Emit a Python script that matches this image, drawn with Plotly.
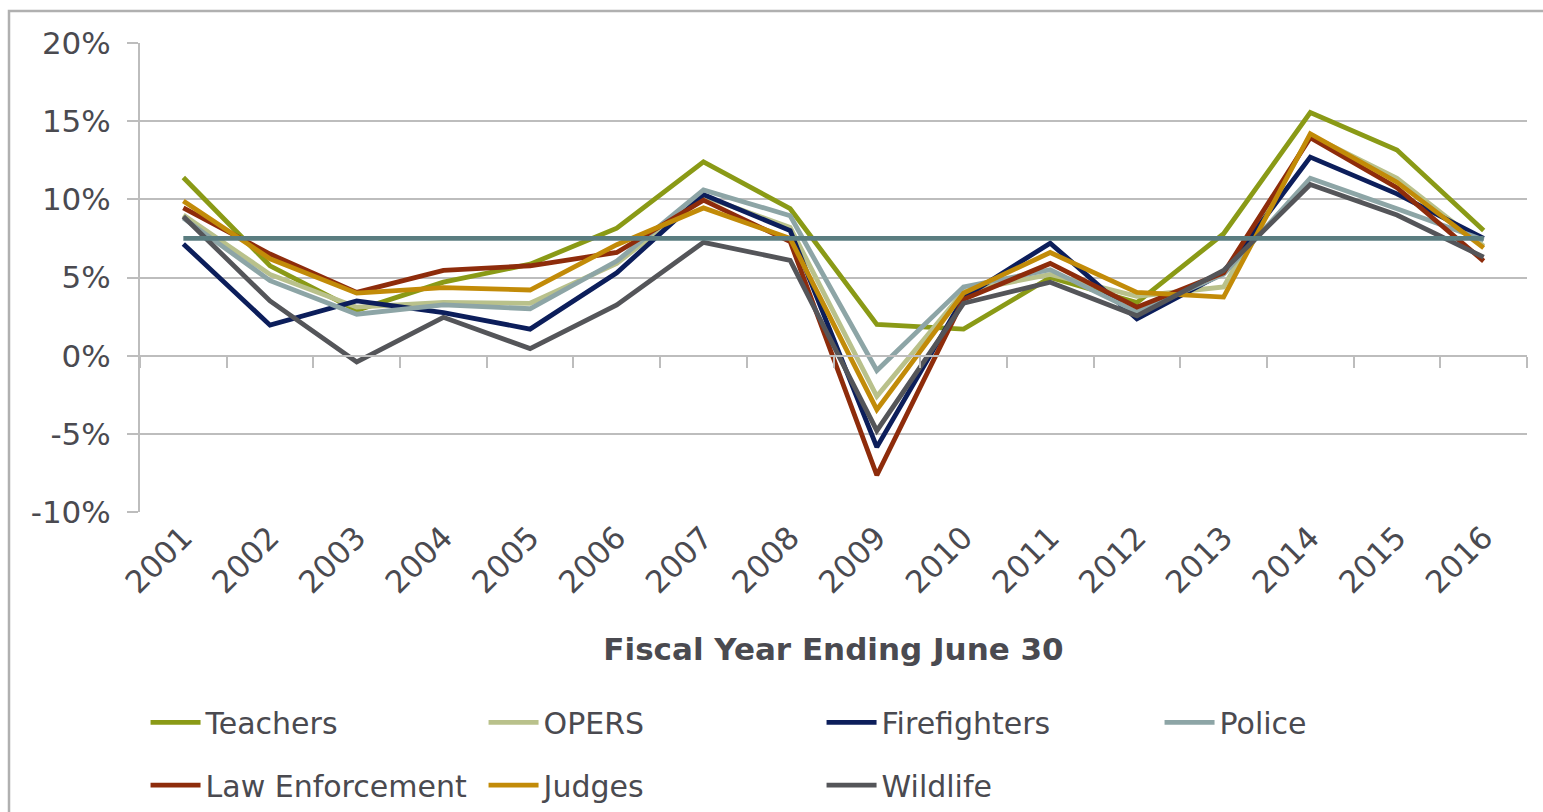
import plotly.graph_objects as go

years = ["2001", "2002", "2003", "2004", "2005", "2006", "2007", "2008",
         "2009", "2010", "2011", "2012", "2013", "2014", "2015", "2016"]

teachers = [11.4, 5.75, 2.9, 4.7, 5.85, 8.15, 12.4, 9.4, 2.0, 1.7, 5.0, 3.4, 7.8, 15.55, 13.15, 8.0]
opers = [9.0, 5.2, 3.1, 3.4, 3.35, 5.9, 10.2, 8.2, -2.6, 4.1, 5.2, 3.8, 4.4, 14.1, 11.35, 7.0]
firefighters = [7.15, 1.95, 3.5, 2.75, 1.7, 5.3, 10.3, 8.0, -5.85, 3.7, 7.2, 2.35, 5.3, 12.7, 10.35, 7.5]
police = [8.8, 4.8, 2.65, 3.25, 3.0, 6.05, 10.6, 8.95, -0.95, 4.4, 5.5, 2.8, 5.2, 11.35, 9.4, 7.4]
law_enforcement = [9.45, 6.5, 4.05, 5.45, 5.75, 6.6, 9.95, 7.3, -7.65, 3.6, 5.9, 3.1, 5.3, 13.95, 10.75, 6.05]
judges = [9.9, 6.2, 4.0, 4.35, 4.2, 7.1, 9.45, 7.5, -3.45, 4.0, 6.6, 4.05, 3.75, 14.2, 11.1, 6.9]
wildlife = [8.9, 3.5, -0.4, 2.45, 0.45, 3.25, 7.25, 6.1, -4.8, 3.35, 4.7, 2.55, 5.45, 10.95, 9.0, 6.3]
assumed_return = [7.5] * 16

series_names = ["Teachers", "OPERS", "Firefighters", "Police", "Law Enforcement", "Judges", "Wildlife"]
series_values = [teachers, opers, firefighters, police, law_enforcement, judges, wildlife]
series_colors = ["#8A9A16", "#B9C18B", "#0C1E5B", "#8DA5A6", "#8E2C0B", "#C28B08", "#545559"]
series_legend = ["legend", "legend", "legend", "legend", "legend2", "legend2", "legend2"]

y_tick_vals = [-10, -5, 0, 5, 10, 15, 20]
y_tick_text = ["-10%", "-5%", "0%", "5%", "10%", "15%", "20%"]

TEXT = "#4A4A50"
GRID = "#BDBDBD"
FONT = "DejaVu Sans"

fig = go.Figure()

for name, vals, col, lg in zip(series_names, series_values, series_colors, series_legend):
    fig.add_trace(go.Scatter(x=years, y=vals, name=name, mode="lines", legend=lg,
                             line=dict(color=col, width=4.8)))

fig.add_trace(go.Scatter(x=years, y=assumed_return, name="Assumed Return", mode="lines",
                         line=dict(color="#5A7D80", width=4.8), showlegend=False))

# invisible trace to carry the secondary category axis crossing at 0%
fig.add_trace(go.Scatter(x=years, y=assumed_return, xaxis="x2", mode="lines",
                         line=dict(width=0), showlegend=False, hoverinfo="skip"))

legend_common = dict(orientation="h", xanchor="left", yanchor="top",
                     entrywidth=273, entrywidthmode="pixels",
                     font=dict(family=FONT, size=30, color=TEXT), itemwidth=50,
                     traceorder="normal", bgcolor="rgba(0,0,0,0)")

fig.update_layout(
    width=1543, height=812,
    margin=dict(l=140, r=16, t=43, b=300, autoexpand=False),
    paper_bgcolor="white", plot_bgcolor="white",
    font=dict(family=FONT, color=TEXT, size=30),
    showlegend=True,
    legend=dict(x=0.004, y=-0.393, **legend_common),
    legend2=dict(x=0.004, y=-0.527, **legend_common),
    xaxis=dict(type="category", range=[-0.5, 15.5], showgrid=False, showline=False,
               ticks="", tickangle=-45, tickfont=dict(size=31, color=TEXT),
               automargin=False,
               title=dict(text="<b>Fiscal Year Ending June 30</b>", standoff=39,
                          font=dict(size=31, color=TEXT)),
               zeroline=False),
    xaxis2=dict(type="category", overlaying="x", matches="x", anchor="free",
                position=1/3, showline=True, linecolor=GRID, linewidth=2,
                ticks="outside", tickson="boundaries", ticklen=11, tickwidth=2,
                tickcolor=GRID, showticklabels=False, showgrid=False, zeroline=False,
                automargin=False),
    yaxis=dict(range=[-10, 20], tickvals=y_tick_vals, ticktext=y_tick_text,
               showgrid=True, gridcolor=GRID, gridwidth=2, showline=True,
               linecolor=GRID, linewidth=2, ticks="outside", ticklen=11,
               tickwidth=2, tickcolor=GRID, zeroline=False, automargin=False,
               tickfont=dict(size=31, color=TEXT), ticklabelstandoff=10),
    shapes=[dict(type="rect", xref="paper", yref="paper",
                 x0=(9 - 140) / 1387, x1=1.05, y0=-0.75, y1=(512 - 11) / 469,
                 line=dict(color="#B0B0B0", width=2.5), fillcolor="rgba(0,0,0,0)",
                 layer="below")],
)

fig.write_html("out.html")
